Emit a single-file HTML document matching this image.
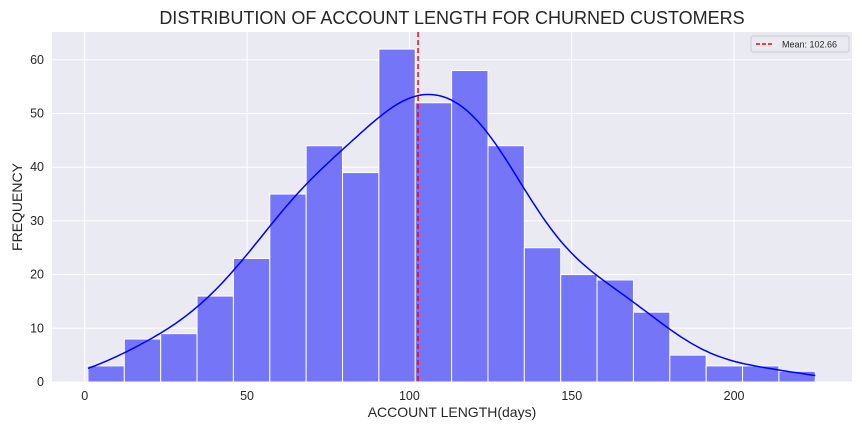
<!DOCTYPE html>
<html><head><meta charset="utf-8"><style>
body{margin:0;background:#fff;font-family:"Liberation Sans",sans-serif}
svg text{font-family:"Liberation Sans",sans-serif}
</style></head><body>
<svg id="c" width="864" height="432"></svg>
<script>
const binStart = 1, binWidth = 11.2;
const counts = [3,8,9,16,23,35,44,39,62,52,58,44,25,20,19,13,5,3,3,2];
const meanValue = 102.66;
const xTicks = [0,50,100,150,200];
const yTicks = [0,10,20,30,40,50,60];
const L=52,R=852,T=32,B=382;
const sx=v=>84.7+(v)*3.247;
const sy=v=>B-v*5.37;
const svg=document.getElementById('c');
const NS='http://www.w3.org/2000/svg';
function mk(tag,attrs,parent){const e=document.createElementNS(NS,tag);for(const k in attrs)e.setAttribute(k,attrs[k]);(parent||svg).appendChild(e);return e;}
let bg=mk('rect',{x:L,y:T,width:R-L,height:B-T,fill:'#eaeaf2'});


xTicks.forEach(t=>{
 let g=mk('line',{x1:sx(t),x2:sx(t),y1:T,y2:B,stroke:'#fff','stroke-width':1});
 
 
 let tx=mk('text',{x:sx(t),y:B+18,'text-anchor':'middle','font-size':12.5,fill:'#262626'});
 tx.textContent=t;
 
 
});
yTicks.forEach(t=>{
 let g=mk('line',{x1:L,x2:R,y1:sy(t),y2:sy(t),stroke:'#fff','stroke-width':1});
 
 
 let tx=mk('text',{x:L-8,y:sy(t)+4,'text-anchor':'end','font-size':12.5,fill:'#262626'});
 tx.textContent=t;
 
 
});
counts.forEach((c,i)=>{
 const x0=binStart+i*binWidth;
 let r=mk('rect',{x:sx(x0),y:sy(c),width:sx(x0+binWidth)-sx(x0),height:B-sy(c),fill:'#7575f8',stroke:'#fff','stroke-width':1});
 
 
});
// KDE from histogram
const n=counts.reduce((a,b)=>a+b,0);
let mu=0;counts.forEach((c,i)=>mu+=c*(binStart+(i+.5)*binWidth));mu/=n;
let v=0;counts.forEach((c,i)=>v+=c*Math.pow(binStart+(i+.5)*binWidth-mu,2));v/=n;
const bw=1.12*Math.sqrt(v+binWidth*binWidth/12)*Math.pow(n,-0.2);
let pts=[];
for(let k=0;k<=200;k++){
 const x=binStart+k*(binWidth*counts.length)/200;
 let d=0;counts.forEach((c,i)=>{const m=binStart+(i+.5)*binWidth;const s=Math.sqrt(bw*bw+binWidth*binWidth/12);d+=c*Math.exp(-0.5*((x-m)/s)**2)/(s*Math.sqrt(2*Math.PI));});
 pts.push(sx(x).toFixed(1)+','+sy(d*binWidth).toFixed(1));
}
let kde=mk('polyline',{points:pts.join(' '),fill:'none',stroke:'#0000ff','stroke-width':1.5});


let ml=mk('line',{x1:sx(meanValue),x2:sx(meanValue),y1:T,y2:B,stroke:'#ff0000','stroke-width':1.5,'stroke-dasharray':'5,3'});


let lg=mk('g',{});


mk('rect',{x:751,y:36,width:98,height:16,rx:2,fill:'#eaeaf2',stroke:'#ccc'},lg);
mk('line',{x1:756,x2:774,y1:44,y2:44,stroke:'#ff0000','stroke-width':1.5,'stroke-dasharray':'4,2'},lg);
let lt=mk('text',{x:782,y:47.5,'font-size':9,fill:'#262626'},lg);lt.textContent='Mean: 102.66';
let title=mk('text',{x:452,y:24,'text-anchor':'middle','font-size':18,fill:'#262626'});
title.textContent='DISTRIBUTION OF ACCOUNT LENGTH FOR CHURNED CUSTOMERS';


let xl=mk('text',{x:452,y:417,'text-anchor':'middle','font-size':14,fill:'#262626'});
xl.textContent='ACCOUNT LENGTH(days)';


let yl=mk('text',{x:22,y:207,'text-anchor':'middle','font-size':14,fill:'#262626',transform:'rotate(-90 22 207)'});
yl.textContent='FREQUENCY';


</script>
</body></html>
